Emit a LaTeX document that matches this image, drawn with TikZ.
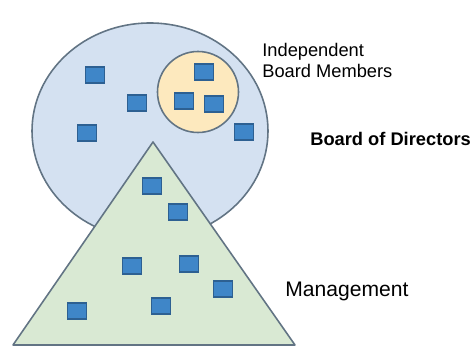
\documentclass[tikz,border=0pt]{standalone}
\usepackage{fontspec}
\usepackage{tkz-euclide}
\setmainfont{Liberation Sans}
\definecolor{boardfill}{RGB}{212,225,241}
\definecolor{indepfill}{RGB}{253,233,190}
\definecolor{mgmtfill}{RGB}{217,233,211}
\definecolor{edgegray}{RGB}{98,116,132}
\definecolor{memberfill}{RGB}{63,134,200}
\definecolor{memberdraw}{RGB}{45,96,146}
\tikzset{>=stealth,
  member/.style={draw=memberdraw, fill=memberfill, line width=0.7pt,
    minimum width=0.38cm, minimum height=0.32cm, inner sep=0pt},
  caption/.style={inner sep=0pt, font=\fontsize{10.4}{12}\selectfont}}

\begin{document}
\begin{tikzpicture}
    \useasboundingbox (0,0) rectangle (9.46,6.96);
    % board circle and the independent members inside it
    \draw[edgegray, line width=0.9pt, fill=boardfill] (3.00,4.34) ellipse (2.36 and 2.16);
    \draw[edgegray, line width=0.9pt, fill=indepfill] (3.96,5.12) circle (0.81);
    % management pyramid
    \tkzDefPoints{3.06/4.12/T, 0.26/0.06/L, 5.90/0.06/R}
    \tkzDrawPolygon[edgegray, line width=0.9pt, fill=mgmtfill](L,T,R)
    % people
    \foreach \x/\y [count=\i] in {1.90/5.46, 2.74/4.90, 1.74/4.30, 4.08/5.52,
        3.68/4.94, 4.28/4.88, 4.88/4.32, 3.04/3.24, 3.56/2.72, 2.64/1.64,
        3.78/1.68, 4.46/1.18, 3.22/0.84, 1.54/0.74}
        \node[member] (m\i) at (\x,\y) {};
    % labels
    \node[caption, anchor=north west, align=left] (indep) at (5.24,6.11)
        {Independent\\Board Members};
    \node[caption, anchor=base west, font=\fontsize{10.4}{12}\selectfont\bfseries]
        (board) at (6.20,4.04) {Board of Directors};
    \node[caption, anchor=base west, font=\fontsize{12}{14}\selectfont]
        (mgmt) at (5.70,1.02) {Management};
\end{tikzpicture}
\end{document}
